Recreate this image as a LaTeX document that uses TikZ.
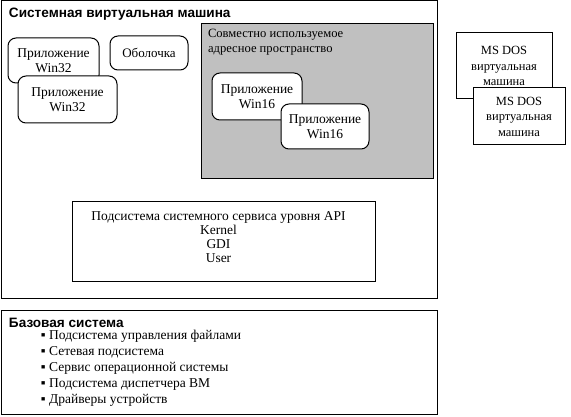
\documentclass[tikz,border=0pt]{standalone}
\usepackage{fontspec}
\setmainfont{Liberation Serif}
\newfontfamily\headfont{Liberation Sans}
\definecolor{shared}{HTML}{C0C0C0}
\begin{document}
\begin{tikzpicture}[x=1pt,y=-1pt,
  every node/.style={inner sep=0pt, outer sep=0pt},
  txt/.style={font=\fontsize{13.5}{15}\selectfont, align=center},
  rbox/.style={draw, line width=1pt, fill=white, rounded corners=8pt, txt},
  sbox/.style={draw, line width=1pt, fill=white, txt},
  area/.style={draw, line width=1pt},
  head/.style={font=\headfont\bfseries\fontsize{13.6}{15}\selectfont, anchor=west},
]
\useasboundingbox (0,0) rectangle (571,417);
% system VM
\node[area, minimum width=436pt, minimum height=297pt] (svm) at (219,149.5) {};
\node[head] (svmtitle) at (9,14) {Системная виртуальная машина};
\node[rbox, minimum width=91pt, minimum height=45pt] (w32a) at (53.5,60.5) {Приложение\\Win32};
\node[rbox, minimum width=99pt, minimum height=47pt] (w32b) at (67.5,99.5) {Приложение\\Win32};
\node[rbox, minimum width=78pt, minimum height=34pt, font=\fontsize{13}{15}\selectfont] (shell) at (149,53) {Оболочка};
% shared space
\node[area, fill=shared, minimum width=232pt, minimum height=155pt] (shared) at (317,101.5) {};
\node[txt, align=left, anchor=north west, font=\fontsize{12.6}{15}\selectfont] (sharedtxt) at (208,29) {Совместно используемое\\адресное пространство};
\node[rbox, minimum width=90pt, minimum height=47pt] (w16a) at (257,96.5) {Приложение\\Win16};
\node[rbox, minimum width=88pt, minimum height=45pt] (w16b) at (325,126.5) {Приложение\\Win16};
% API
\node[sbox, minimum width=303pt, minimum height=79pt] (api) at (223.5,241.5) {};
\node[txt, font=\fontsize{13.5}{14.2}\selectfont] (apitxt) at (218.5,237) {Подсистема системного сервиса уровня API\\Kernel\\GDI\\User};
% MS DOS
\node[sbox, minimum width=96pt, minimum height=66pt, font=\fontsize{12.5}{15.5}\selectfont] (dosa) at (504,66) {MS DOS\\виртуальная\\машина};
\node[sbox, minimum width=92pt, minimum height=57pt, font=\fontsize{12.5}{15.5}\selectfont] (dosb) at (519,116.5) {MS DOS\\виртуальная\\машина};
% base system
\node[area, minimum width=436pt, minimum height=104pt] (base) at (219,362) {};
\node[head] (basetitle) at (9,323) {Базовая система};
\node[txt, align=left, anchor=north west, font=\fontsize{13.5}{16}\selectfont] (baselist) at (41,330) {▪ Подсистема управления файлами\\▪ Сетевая подсистема\\▪ Сервис операционной системы\\▪ Подсистема диспетчера ВМ\\▪ Драйверы устройств};
\end{tikzpicture}
\end{document}
